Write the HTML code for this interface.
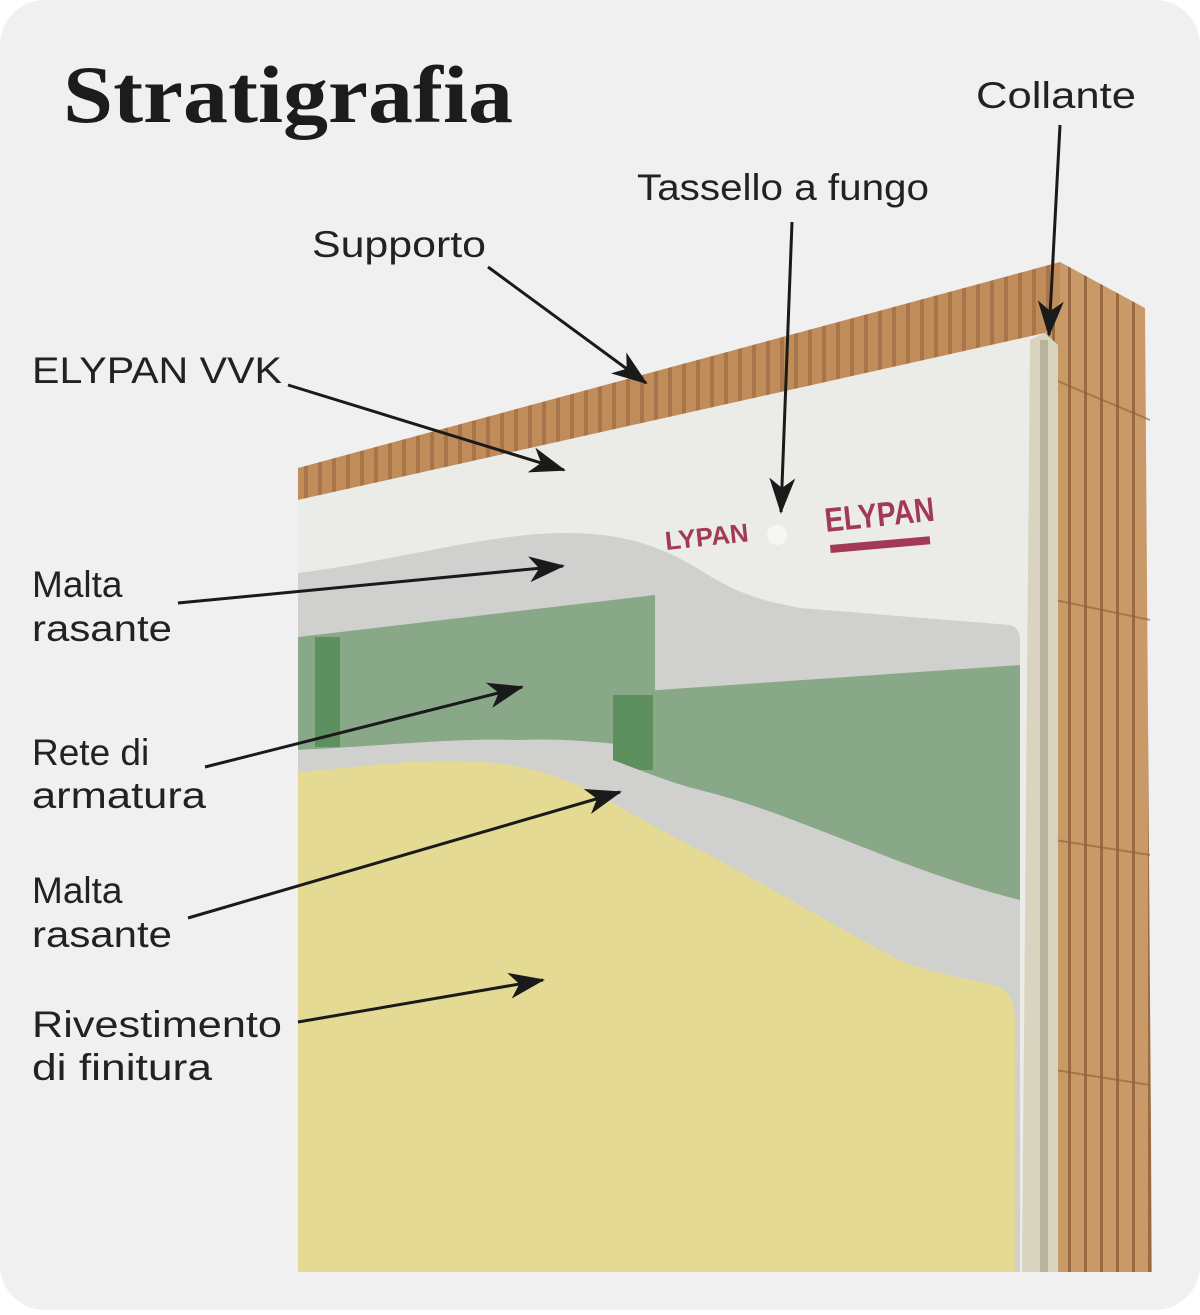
<!DOCTYPE html>
<html><head><meta charset="utf-8"><style>
html,body{margin:0;padding:0;background:#fff;}
body{width:1200px;height:1310px;overflow:hidden;}
</style></head><body>
<svg width="1200" height="1310" viewBox="0 0 1200 1310" xmlns="http://www.w3.org/2000/svg">
<defs>
<pattern id="brk" width="14" height="20" patternUnits="userSpaceOnUse"><rect width="14" height="20" fill="#c08d5a"/><rect x="10" width="4" height="20" fill="#a8754a"/></pattern>
<pattern id="side" width="16" height="20" patternUnits="userSpaceOnUse"><rect width="16" height="20" fill="#c99a68"/><rect x="12" width="3" height="20" fill="#9a6a40"/></pattern>
<marker id="ah" markerWidth="36" markerHeight="26" refX="34" refY="13" orient="auto" markerUnits="userSpaceOnUse" viewBox="0 0 36 26"><path d="M0,0 L36,13 L0,26 L10,13 Z" fill="#1a1a1a"/></marker>
</defs>
<rect x="0" y="0" width="1200" height="1310" rx="45" fill="#f0f0f0"/>
<text x="63" y="122" font-family="Liberation Serif, serif" font-weight="bold" font-size="82" fill="#1c1c1c" textLength="450" lengthAdjust="spacingAndGlyphs">Stratigrafia</text>
<polygon points="1045,268 1060,262 1145,308 1152,1272 1045,1272" fill="url(#side)"/>
<g stroke="#8f5f38" stroke-width="2" opacity="0.6">
<line x1="1055" y1="380" x2="1150" y2="420"/><line x1="1055" y1="600" x2="1150" y2="620"/><line x1="1055" y1="840" x2="1150" y2="855"/><line x1="1055" y1="1070" x2="1150" y2="1085"/>
</g>
<polygon points="298,468 1060,262 1060,300 1045,333 298,500" fill="url(#brk)"/>
<polygon points="1020,340 1045,333 1058,345 1058,1272 1020,1272" fill="#d9d4bf"/>
<rect x="1040" y="340" width="8" height="932" fill="#b9b39c"/>
<polygon points="298,500 1045,333 1030,340 1022,1272 298,1272" fill="#ebebe7"/>
<g fill="#a33a55" font-family="Liberation Sans, sans-serif" font-weight="bold">
<text x="826" y="532" font-size="34" transform="rotate(-6 826 532)" textLength="110" lengthAdjust="spacingAndGlyphs">ELYPAN</text>
<rect x="830" y="545" width="100" height="8" transform="rotate(-5 830 545)"/>
<text x="666" y="550" font-size="26" transform="rotate(-6 666 550)">LYPAN</text>
</g>
<circle cx="777" cy="535" r="10" fill="#f6f6f4"/>
<path d="M298,573 C400,560 480,535 560,533 C620,532 660,545 700,570 C740,595 760,600 800,608 L1010,625 Q1020,628 1020,640 L1020,1272 L298,1272 Z" fill="#d0d0ce"/>
<path d="M298,637 L655,595 L655,748 C600,742 560,738 520,740 L298,750 Z" fill="#88a888"/>
<rect x="315" y="637" width="25" height="110" fill="#5e8f5e"/>
<path d="M615,693 L1020,665 L1020,900 C900,880 820,850 700,790 L615,780 Z" fill="#88a888"/>
<rect x="613" y="695" width="40" height="75" fill="#5e8f5e"/>
<path d="M298,750 C400,745 480,735 540,742 C600,748 640,775 700,790 C800,815 900,870 1020,900 L1020,1272 L298,1272 Z" fill="#d0d0ce"/>
<path d="M298,772 C380,765 440,755 510,765 C580,776 620,810 680,840 C760,880 840,930 900,960 C950,980 990,980 1005,990 Q1015,1000 1015,1020 L1015,1272 L298,1272 Z" fill="#e4da93"/>
<g font-family="Liberation Sans, sans-serif" font-size="37" fill="#222">
<text x="976" y="108" textLength="160" lengthAdjust="spacingAndGlyphs">Collante</text>
<text x="637" y="200" textLength="292" lengthAdjust="spacingAndGlyphs">Tassello a fungo</text>
<text x="312" y="257" textLength="174" lengthAdjust="spacingAndGlyphs">Supporto</text>
<text x="32" y="383" textLength="250" lengthAdjust="spacingAndGlyphs">ELYPAN VVK</text>
<text x="32" y="597">Malta</text><text x="32" y="641" textLength="140" lengthAdjust="spacingAndGlyphs">rasante</text>
<text x="32" y="765">Rete di</text><text x="32" y="808" textLength="174" lengthAdjust="spacingAndGlyphs">armatura</text>
<text x="32" y="903">Malta</text><text x="32" y="947" textLength="140" lengthAdjust="spacingAndGlyphs">rasante</text>
<text x="32" y="1037" textLength="250" lengthAdjust="spacingAndGlyphs">Rivestimento</text><text x="32" y="1080" textLength="180" lengthAdjust="spacingAndGlyphs">di finitura</text>
</g>
<g stroke="#1a1a1a" stroke-width="3" fill="none" marker-end="url(#ah)">
<line x1="1060" y1="125" x2="1049" y2="335"/>
<line x1="792" y1="222" x2="781" y2="512"/>
<line x1="488" y1="267" x2="646" y2="383"/>
<line x1="288" y1="385" x2="564" y2="470"/>
<line x1="178" y1="603" x2="563" y2="566"/>
<line x1="205" y1="767" x2="522" y2="687"/>
<line x1="188" y1="918" x2="620" y2="792"/>
<line x1="298" y1="1022" x2="543" y2="980"/>
</g>
</svg>
</body></html>
